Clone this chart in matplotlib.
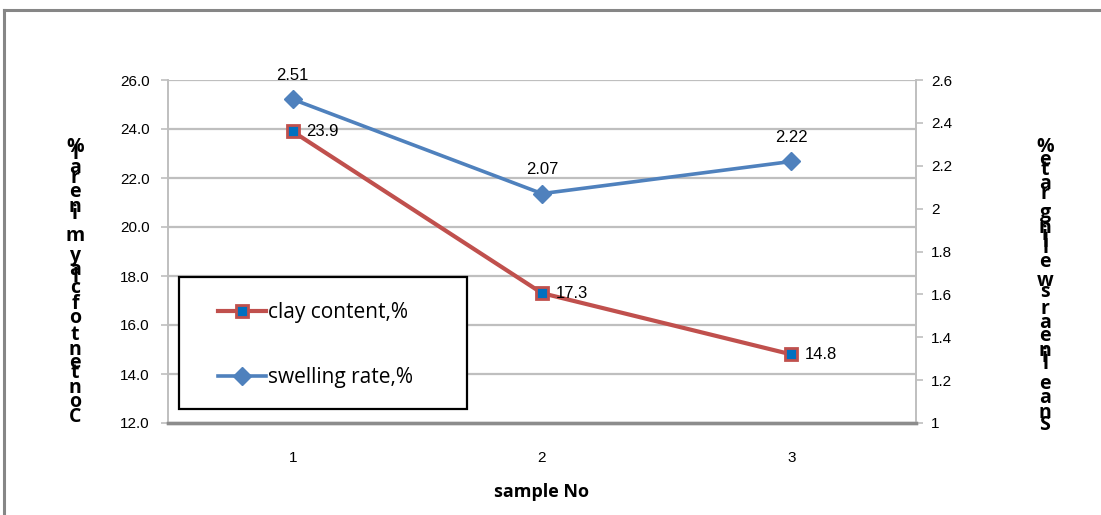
import matplotlib.pyplot as plt
import numpy as np
from matplotlib.font_manager import FontProperties
from matplotlib.lines import Line2D
from matplotlib.patches import Rectangle
from matplotlib.textpath import TextToPath

samples = [1, 2, 3]
clay_content = [23.9, 17.3, 14.8]
swelling_rate = [2.51, 2.07, 2.22]
left_ticks = [12.0, 14.0, 16.0, 18.0, 20.0, 22.0, 24.0, 26.0]
right_ticks = [1, 1.2, 1.4, 1.6, 1.8, 2, 2.2, 2.4, 2.6]
right_tick_labels = ["1", "1.2", "1.4", "1.6", "1.8", "2", "2.2", "2.4", "2.6"]
left_label = "Content of clay mineral%"
right_label = "Snae linear swelling rate%"

W, H = 1101, 515
FONT = ["Liberation Sans", "DejaVu Sans"]
WIDE = ["Open Sans", "DejaVu Sans"]
GRID = "#bfbfbf"
RED = "#c0504d"
BLUE = "#4f81bd"
MARK_BLUE = "#0070c0"

plt.rcParams["font.family"] = FONT


def px(x, y):
    # pixel coords (origin top-left) -> figure fraction
    return x / W, 1 - y / H


def stacked_label(fig, text, x, y_bottom, y_top, size):
    # characters drawn upright, advancing by their horizontal width
    prop = FontProperties(family=WIDE, weight="bold", size=size)
    t2p = TextToPath()
    adv = []
    for ch in text:
        w, _, _ = t2p.get_text_width_height_descent(ch if ch != " " else "n", prop, ismath=False)
        adv.append(w * (0.45 if ch == " " else 1.0))
    pos = np.concatenate([[0.0], np.cumsum(adv)[:-1]])
    pos = pos / pos[-1] * (y_bottom - y_top)
    for ch, p in zip(text, pos):
        if ch == " ":
            continue
        fx, fy = px(x, y_bottom - p)
        fig.text(fx, fy, ch, ha="center", va="baseline", fontproperties=prop)


fig = plt.figure(figsize=(W / 100, H / 100), dpi=100)

# chart frame (left and top edges)
fig.add_artist(Line2D([4 / W, 4 / W], [0, 1 - 10 / H], color="#868686", lw=2.2))
fig.add_artist(Line2D([4 / W, 1], [1 - 10 / H, 1 - 10 / H], color="#868686", lw=2.2))

ax = fig.add_axes([168 / W, 1 - 423 / H, (916 - 168) / W, (423 - 80) / H])
ax2 = ax.twinx()

ax.set_xlim(0.5, 3.5)
ax.set_ylim(12, 26)
ax2.set_ylim(1, 2.6)

for y in left_ticks[1:]:
    ax.axhline(y, color=GRID, lw=1.6, zorder=0)

for a in (ax, ax2):
    a.spines["top"].set_visible(False)
    a.spines["left"].set_color(GRID)
    a.spines["right"].set_color(GRID)
    a.spines["left"].set_linewidth(1.2)
    a.spines["right"].set_linewidth(1.2)
    a.spines["bottom"].set_color("#8c8c8c")
    a.spines["bottom"].set_linewidth(2.4)

ax.set_xticks(samples)
ax.set_xticklabels([str(s) for s in samples], fontsize=11)
ax.tick_params(axis="x", length=0, pad=20)
ax.set_yticks(left_ticks)
ax.set_yticklabels([f"{v:.1f}" for v in left_ticks], fontsize=11)
ax.tick_params(axis="y", length=5, color=GRID, width=1.2, pad=8)
ax2.set_yticks(right_ticks)
ax2.set_yticklabels(right_tick_labels, fontsize=11)
ax2.tick_params(axis="y", length=5, color=GRID, width=1.2, pad=6)

ax.set_xlabel("sample No", fontsize=13, fontweight="bold", labelpad=13, family=WIDE)

clay_line, = ax.plot(samples, clay_content, color=RED, lw=3.0, marker="s",
                     markersize=9, markerfacecolor=MARK_BLUE, markeredgecolor=RED,
                     markeredgewidth=2.0, zorder=3, label="clay content,%")
swell_line, = ax2.plot(samples, swelling_rate, color=BLUE, lw=2.6, marker="D",
                       markersize=9, markerfacecolor=BLUE, markeredgecolor=BLUE,
                       zorder=3, label="swelling rate,%")

for x, v in zip(samples, clay_content):
    ax.annotate(f"{v:.1f}", (x, v), xytext=(10, 0), textcoords="offset points",
                ha="left", va="center", fontsize=12, zorder=4)
for x, v in zip(samples, swelling_rate):
    ax2.annotate(f"{v:.2f}", (x, v), xytext=(0, 12), textcoords="offset points",
                 ha="center", va="bottom", fontsize=12, zorder=4)

# legend box sitting over the plot area
box = Rectangle((11 / 748, 14 / 343), 288 / 748, 132 / 343, transform=ax2.transAxes,
                facecolor="white", edgecolor="black", lw=1.6, zorder=5)
ax2.add_patch(box)
leg = ax2.legend(handles=[clay_line, swell_line], loc="center left",
                 bbox_to_anchor=(50 / 748, 78 / 343), frameon=False,
                 prop=FontProperties(family=WIDE, size=15),
                 handlelength=2.3, handletextpad=0.1, labelspacing=2.1,
                 borderpad=0, borderaxespad=0)
leg.set_zorder(6)

stacked_label(fig, left_label, 75, 422, 152, 14)
stacked_label(fig, right_label, 1045, 430, 152, 14)

fig.savefig("out.png", dpi=100)
